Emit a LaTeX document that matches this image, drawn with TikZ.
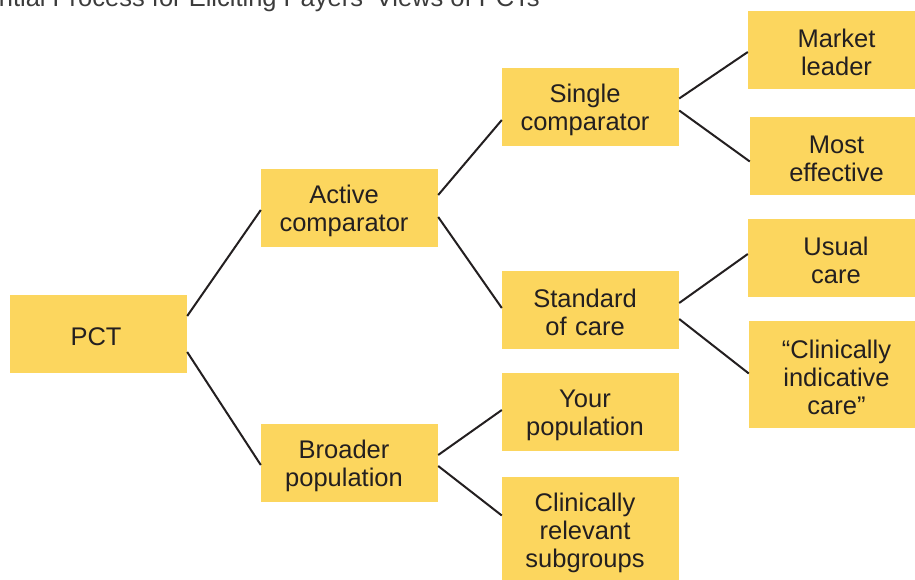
\documentclass[tikz,border=0pt]{standalone}
\usepackage{fontspec}
\setmainfont{Liberation Sans}
\usetikzlibrary{calc}
\definecolor{boxfill}{RGB}{252,214,94}
\definecolor{ink}{RGB}{35,31,32}
\definecolor{titlegray}{RGB}{60,60,60}
\def\boxrs{11pt}
\tikzset{
  rs/.store in=\boxrs,
  box/.style={fill=boxfill, draw=none, minimum width=177pt, minimum height=78pt,
    inner sep=0pt, text width=177pt, text=ink, font=\fontsize{25.5}{28}\selectfont,
    execute at begin node={\centering\rightskip=\boxrs plus 1fil\relax\rule{0pt}{23.5pt}}},
  tallbox/.style={box, minimum height=107pt},
  link/.style={draw=ink, line width=2pt}
}
\begin{document}
\begin{tikzpicture}[x=1pt,y=-1pt]
\useasboundingbox (0,0) rectangle (915,579);
\clip (0,0) rectangle (915,579);
\node[anchor=base east, text=titlegray, font=\fontsize{25.5}{28}\selectfont, inner sep=0pt] (title) at (540,6.5) {Sequential Process for Eliciting Payers’ Views of PCTs};
\node[box, rs=5pt] (pct) at (98.5,334) {PCT};
\node[box] (act) at (349.5,208) {Active\\comparator};
\node[box] (brd) at (349.5,463) {Broader\\population};
\node[box] (sgl) at (590.5,107) {Single\\comparator};
\node[box] (std) at (590.5,310) {Standard\\of care};
\node[box] (your) at (590.5,412) {Your\\population};
\node[tallbox] (sub) at (590.5,530.5) {Clinically\\relevant\\subgroups};
\node[box, rs=0pt] (mkt) at (836.5,50) {Market\\leader};
\node[box, rs=4pt] (eff) at (838.5,155.5) {Most\\effective};
\node[box, rs=1pt] (usu) at (836.5,258) {Usual\\care};
\node[tallbox, rs=2pt] (cli) at (837.5,374.5) {“Clinically\\indicative\\care”};
\draw[link] ($(pct.east)+(0,-18)$) -- ($(act.west)+(0,2)$);
\draw[link] ($(pct.east)+(0,18)$) -- ($(brd.west)+(0,2)$);
\draw[link] ($(act.east)+(0,-13)$) -- ($(sgl.west)+(0,13)$);
\draw[link] ($(act.east)+(0,9)$) -- ($(std.west)+(0,-2)$);
\draw[link] ($(sgl.east)+(0,-8.5)$) -- ($(mkt.west)+(0,2)$);
\draw[link] ($(sgl.east)+(0,3.5)$) -- ($(eff.west)+(0,6)$);
\draw[link] ($(std.east)+(0,-7)$) -- ($(usu.west)+(0,-4)$);
\draw[link] ($(std.east)+(0,9)$) -- ($(cli.west)+(0,-1)$);
\draw[link] ($(brd.east)+(0,-8)$) -- ($(your.west)+(0,-2)$);
\draw[link] ($(brd.east)+(0,3)$) -- ($(sub.west)+(0,-15)$);
\end{tikzpicture}
\end{document}
